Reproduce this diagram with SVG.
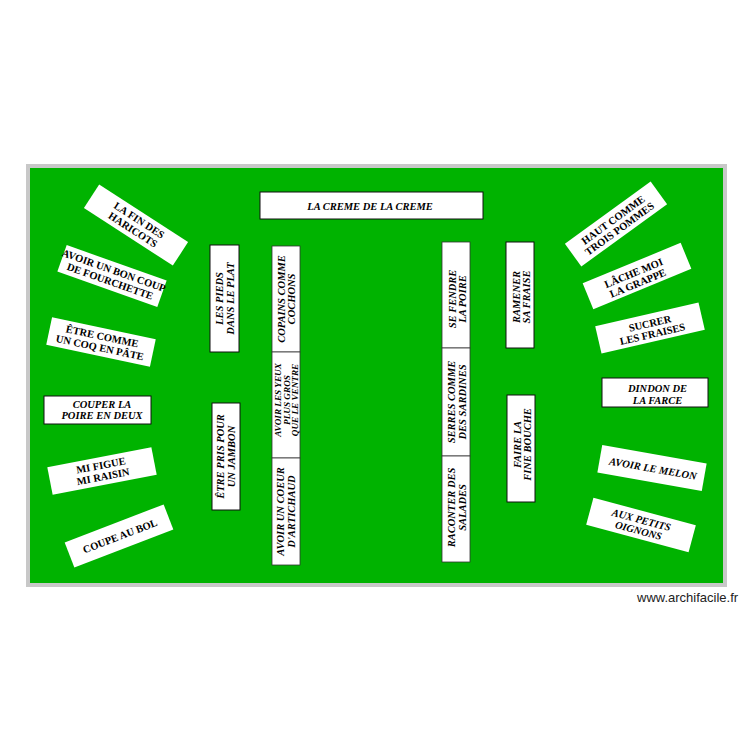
<svg xmlns="http://www.w3.org/2000/svg" width="750" height="750" viewBox="0 0 750 750">
<style>
.w{fill:#fff}
.b{fill:#fff;stroke:#111;stroke-width:1}
.c{fill:#fff;stroke:#333;stroke-width:0.8}
.t{font-family:"Liberation Serif","Times New Roman",serif;font-weight:bold;font-size:10.5px;text-anchor:middle;fill:#000}
.i{font-style:italic}
.s{font-size:9.2px}
</style>
<rect x="0" y="0" width="750" height="750" fill="#fff"/>
<rect id="room" x="28" y="166" width="697" height="419" fill="#00b300" stroke="#c8c8c8" stroke-width="4"/>
<g id="connectors"/>

<g id="creme"><rect class="b" x="260" y="192" width="223" height="27"/><text class="t i" x="370" y="210">LA CREME DE LA CREME</text></g>

<g id="haricots" transform="translate(136,225) rotate(33)"><rect class="w" x="-53" y="-14" width="106" height="28"/><text class="t" x="0" y="-2.2">LA FIN DES</text><text class="t" x="0" y="9.3">HARICOTS</text></g>
<g id="fourchette" transform="translate(112,276) rotate(19.5)"><rect class="w" x="-53" y="-14" width="106" height="28"/><text class="t" x="0" y="-2.2">AVOIR UN BON COUP</text><text class="t" x="0" y="9.3">DE FOURCHETTE</text></g>
<g id="coq" transform="translate(101,342) rotate(12)"><rect class="w" x="-53" y="-14" width="106" height="28"/><text class="t" x="0" y="-2.2">ÊTRE COMME</text><text class="t" x="0" y="9.3">UN COQ EN PÂTE</text></g>
<g id="poire-deux" transform="translate(97.5,410)"><rect class="b" x="-53.5" y="-14" width="107" height="28"/><text class="t i" x="4.5" y="-2">COUPER LA</text><text class="t i" x="4.5" y="9">POIRE EN DEUX</text></g>
<g id="figue" transform="translate(102,471) rotate(-11)"><rect class="w" x="-53" y="-14" width="106" height="28"/><text class="t" x="0" y="-2.2">MI FIGUE</text><text class="t" x="0" y="9.3">MI RAISIN</text></g>
<g id="bol" transform="translate(119,536) rotate(-21)"><rect class="w" x="-53" y="-13.5" width="106" height="27"/><text class="t" x="1" y="4">COUPE AU BOL</text></g>

<g id="pieds" transform="translate(224.5,298.5) rotate(-90)"><rect class="b" x="-53.5" y="-14.5" width="107" height="29"/><text class="t i" x="0" y="-2">LES PIEDS</text><text class="t i" x="0" y="9">DANS LE PLAT</text></g>
<g id="jambon" transform="translate(226,456.5) rotate(-90)"><rect class="b" x="-53.5" y="-14" width="107" height="28"/><text class="t i" x="0" y="-2">ÊTRE PRIS POUR</text><text class="t i" x="0" y="9">UN JAMBON</text></g>

<g id="cochons" transform="translate(286,299) rotate(-90)"><rect class="c" x="-53" y="-14" width="106" height="28"/><text class="t i" x="0" y="-1.5">COPAINS COMME</text><text class="t i" x="0" y="9">COCHONS</text></g>
<g id="yeux" transform="translate(286,405) rotate(-90)"><rect class="c" x="-53" y="-14" width="106" height="28"/><text class="t i s" x="5" y="-5.5">AVOIR LES YEUX</text><text class="t i s" x="5" y="3.5">PLUS GROS</text><text class="t i s" x="5" y="12">QUE LE VENTRE</text></g>
<g id="artichaud" transform="translate(286,511.5) rotate(-90)"><rect class="c" x="-53.5" y="-14" width="107" height="28"/><text class="t i" x="0" y="-2">AVOIR UN COEUR</text><text class="t i" x="0" y="9">D'ARTICHAUD</text></g>

<g id="fendre" transform="translate(456,295) rotate(-90)"><rect class="c" x="-53" y="-14" width="106" height="28"/><text class="t i" x="-4" y="-0.5">SE FENDRE</text><text class="t i" x="-4" y="10">LA POIRE</text></g>
<g id="sardines" transform="translate(456,402) rotate(-90)"><rect class="c" x="-54" y="-14" width="108" height="28"/><text class="t i" x="0" y="-1">SERRES COMME</text><text class="t i" x="0" y="9.5">DES SARDINES</text></g>
<g id="salades" transform="translate(456,509) rotate(-90)"><rect class="c" x="-53" y="-14" width="106" height="28"/><text class="t i" x="1.5" y="-1">RACONTER DES</text><text class="t i" x="1.5" y="9.5">SALADES</text></g>

<g id="fraise" transform="translate(520,295) rotate(-90)"><rect class="b" x="-53" y="-14" width="106" height="28"/><text class="t i" x="-2" y="-0.5">RAMENER</text><text class="t i" x="-2" y="10">SA FRAISE</text></g>
<g id="bouche" transform="translate(521,448.5) rotate(-90)"><rect class="b" x="-53.5" y="-14" width="107" height="28"/><text class="t i" x="4" y="-0.5">FAIRE LA</text><text class="t i" x="4" y="10">FINE BOUCHE</text></g>

<g id="pommes" transform="translate(616,224) rotate(-36)"><rect class="w" x="-53" y="-14" width="106" height="28"/><text class="t" x="0" y="-1.5">HAUT COMME</text><text class="t" x="0" y="9.5">TROIS POMMES</text></g>
<g id="grappe" transform="translate(637,276) rotate(-22.4)"><rect class="w" x="-53" y="-14" width="106" height="28"/><text class="t" x="-2" y="-0.5">LÂCHE MOI</text><text class="t" x="-2" y="10.5">LA GRAPPE</text></g>
<g id="sucrer" transform="translate(650,328) rotate(-13)"><rect class="w" x="-53" y="-14" width="106" height="28"/><text class="t" x="1" y="-1">SUCRER</text><text class="t" x="1" y="10">LES FRAISES</text></g>
<g id="dindon" transform="translate(655,392.5)"><rect class="b" x="-53" y="-14.5" width="106" height="29"/><text class="t i" x="2.5" y="-0.5">DINDON DE</text><text class="t i" x="2.5" y="11">LA FARCE</text></g>
<g id="melon" transform="translate(652,468) rotate(10)"><rect class="w" x="-53" y="-14" width="106" height="28"/><text class="t i" x="1" y="4">AVOIR LE MELON</text></g>
<g id="oignons" transform="translate(641,525) rotate(15)"><rect class="w" x="-53" y="-14" width="106" height="28"/><text class="t i" x="-1" y="-1.5">AUX PETITS</text><text class="t i" x="-1" y="9.5">OIGNONS</text></g>

<text x="637" y="602" font-family="Liberation Sans, Arial, sans-serif" font-size="13" fill="#222">www.archifacile.fr</text>
</svg>
